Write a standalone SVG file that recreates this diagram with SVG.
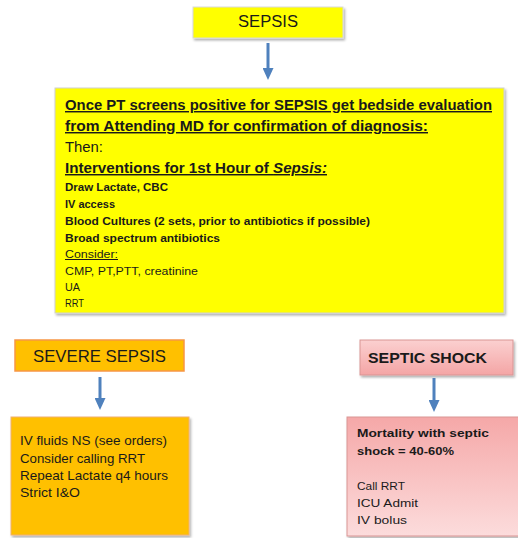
<svg xmlns="http://www.w3.org/2000/svg" width="518" height="538" viewBox="0 0 518 538">
<defs>
  <marker id="ah" markerWidth="12" markerHeight="11" refX="0" refY="5.5" orient="auto" markerUnits="userSpaceOnUse">
    <path d="M0,0 L12,5.5 L0,11 Z" fill="#4F81BD"/>
  </marker>
  <linearGradient id="pink" x1="0" y1="0" x2="0" y2="1">
    <stop offset="0" stop-color="#FBD0D0"/>
    <stop offset="1" stop-color="#F4A5A5"/>
  </linearGradient>
  <linearGradient id="pink2" x1="0" y1="0" x2="0" y2="1">
    <stop offset="0" stop-color="#F5A8A8"/>
    <stop offset="1" stop-color="#FCDCDC"/>
  </linearGradient>
  <filter id="sh" x="-5%" y="-5%" width="115%" height="120%">
    <feDropShadow dx="1.5" dy="2" stdDeviation="1.2" flood-color="#000" flood-opacity="0.3"/>
  </filter>
</defs>
<style>
  .t { font-family: "Liberation Sans", Arial, sans-serif; fill: #1a1a1a; }
  .b { font-weight: bold; }
  .u { text-decoration: underline; }
  .conn { stroke: #4F81BD; stroke-width: 3; fill: none; marker-end: url(#ah); }
</style>
<rect width="518" height="538" fill="#ffffff"/>

<g id="sepsis">
  <rect x="193" y="7" width="150" height="31" fill="#FFFF00" stroke="#D9D9D9" stroke-width="1" filter="url(#sh)"/>
  <text class="t" x="268" y="27" font-size="16" text-anchor="middle" textLength="60" lengthAdjust="spacingAndGlyphs">SEPSIS</text>
</g>

<g id="evaluation">
  <rect x="55" y="88" width="449" height="225" fill="#FFFF00" stroke="#D0D0D0" stroke-width="1" filter="url(#sh)"/>
  <text class="t b u" x="65" y="110" font-size="14.5" textLength="427" lengthAdjust="spacingAndGlyphs">Once PT screens positive for SEPSIS get bedside evaluation</text>
  <text class="t b u" x="65" y="131" font-size="14.5" textLength="363" lengthAdjust="spacingAndGlyphs">from Attending MD for confirmation of diagnosis:</text>
  <text class="t" x="65" y="152" font-size="14" textLength="38" lengthAdjust="spacingAndGlyphs">Then:</text>
  <text class="t b u" x="65" y="173" font-size="14.5" textLength="262" lengthAdjust="spacingAndGlyphs">Interventions for 1st Hour of <tspan font-style="italic">Sepsis:</tspan></text>
  <text class="t b" x="65" y="191" font-size="10" textLength="103" lengthAdjust="spacingAndGlyphs">Draw Lactate, CBC</text>
  <text class="t b" x="65" y="208" font-size="10" textLength="50" lengthAdjust="spacingAndGlyphs">IV access</text>
  <text class="t b" x="65" y="225" font-size="10" textLength="305" lengthAdjust="spacingAndGlyphs">Blood Cultures (2 sets, prior to antibiotics if possible)</text>
  <text class="t b" x="65" y="242" font-size="10" textLength="155" lengthAdjust="spacingAndGlyphs">Broad spectrum antibiotics</text>
  <text class="t u" x="65" y="258" font-size="10" textLength="53" lengthAdjust="spacingAndGlyphs">Consider:</text>
  <text class="t" x="65" y="275" font-size="10" textLength="133" lengthAdjust="spacingAndGlyphs">CMP, PT,PTT, creatinine</text>
  <text class="t" x="65" y="291" font-size="10" textLength="15" lengthAdjust="spacingAndGlyphs">UA</text>
  <text class="t" x="65" y="307" font-size="10" textLength="19" lengthAdjust="spacingAndGlyphs">RRT</text>
</g>

<g id="severe-sepsis">
  <rect x="15" y="340" width="169" height="31" fill="#FFC000" stroke="#F79646" stroke-width="1.5"/>
  <text class="t" x="99.5" y="362" font-size="17" text-anchor="middle" textLength="133" lengthAdjust="spacingAndGlyphs">SEVERE SEPSIS</text>
</g>

<g id="severe-actions">
  <rect x="11" y="417" width="178" height="118" fill="#FFC000" stroke="#F0B070" stroke-width="1" filter="url(#sh)"/>
  <text class="t" x="20" y="445" font-size="13" textLength="147" lengthAdjust="spacingAndGlyphs">IV fluids NS (see orders)</text>
  <text class="t" x="20" y="463" font-size="13" textLength="125" lengthAdjust="spacingAndGlyphs">Consider calling RRT</text>
  <text class="t" x="20" y="480" font-size="13" textLength="148" lengthAdjust="spacingAndGlyphs">Repeat Lactate q4 hours</text>
  <text class="t" x="20" y="497" font-size="13" textLength="60" lengthAdjust="spacingAndGlyphs">Strict I&amp;O</text>
</g>

<g id="septic-shock">
  <rect x="360" y="340" width="153" height="35" fill="url(#pink)" stroke="#D99594" stroke-width="1" filter="url(#sh)"/>
  <text class="t b" x="368" y="363" font-size="15" textLength="119" lengthAdjust="spacingAndGlyphs">SEPTIC SHOCK</text>
</g>

<g id="shock-actions">
  <rect x="347" y="417" width="176" height="119" fill="url(#pink2)" stroke="#D99594" stroke-width="1" filter="url(#sh)"/>
  <text class="t b" x="357" y="437" font-size="11.5" textLength="132" lengthAdjust="spacingAndGlyphs">Mortality with septic</text>
  <text class="t b" x="357" y="455" font-size="11.5" textLength="97" lengthAdjust="spacingAndGlyphs">shock = 40-60%</text>
  <text class="t" x="357" y="490" font-size="11.5" textLength="48" lengthAdjust="spacingAndGlyphs">Call RRT</text>
  <text class="t" x="357" y="507" font-size="11.5" textLength="61" lengthAdjust="spacingAndGlyphs">ICU Admit</text>
  <text class="t" x="357" y="524" font-size="11.5" textLength="50" lengthAdjust="spacingAndGlyphs">IV bolus</text>
</g>

<g id="connectors">
  <line class="conn" x1="268" y1="43" x2="268" y2="68"/>
  <line class="conn" x1="100" y1="377" x2="100" y2="398"/>
  <line class="conn" x1="434" y1="378" x2="434" y2="400"/>
</g>
</svg>
